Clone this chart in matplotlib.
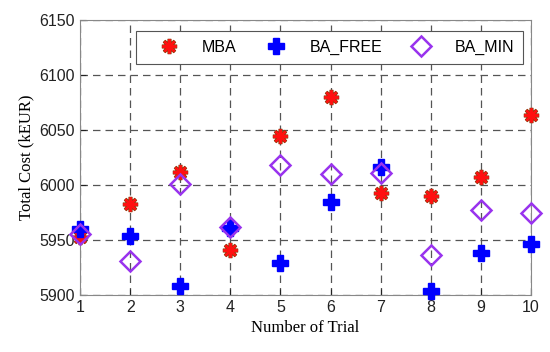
import numpy as np
from matplotlib import pyplot as plt
from matplotlib.lines import Line2D

# 试验次数与三种方法的总成本
trials = [1, 2, 3, 4, 5, 6, 7, 8, 9, 10]
mba = [5953, 5983, 6012, 5941, 6045, 6080, 5993, 5990, 6007, 6064]
ba_free = [5960, 5954, 5908, 5961, 5929, 5985, 6016, 5904, 5938, 5946]
ba_min = [5955, 5931, 6001, 5962, 6018, 6010, 6011, 5936, 5977, 5975]

plt.rcParams['font.family'] = ['Liberation Sans', 'DejaVu Sans']

fig = plt.figure(dpi=100, figsize=(5.5, 3.52))
ax = fig.add_axes([0.1455, 0.162, 0.82, 0.781])

star_dark = dict(ls='none', marker=(8, 2, 0), ms=11, mew=2.6, color='#9a3a10')
star_red = dict(ls='none', marker=(8, 2, 0), ms=10, mew=1.6, color='#ff1010')
ax.plot(trials, mba, zorder=3, clip_on=False, **star_dark)
ax.plot(trials, mba, zorder=4, clip_on=False, label='MBA', **star_red)
ax.plot(trials, ba_free, ls='none', marker='P', ms=11, color='#0000ff',
        mec='#0000ff', zorder=4, clip_on=False, label='BA_FREE')
ax.plot(trials, ba_min, ls='none', marker='D', ms=10, mfc='none',
        mec='#9933ee', mew=1.8, zorder=5, clip_on=False, label='BA_MIN')

ax.set_xlim(1, 10)
ax.set_ylim(5900, 6150)
ax.set_xticks(trials)
ax.set_yticks([5900, 5950, 6000, 6050, 6100, 6150])
ax.grid(True, ls=(0, (6, 4)), color='#555555', lw=0.9)
ax.tick_params(direction='in', length=4, labelsize=11.5, colors='#222222')
for s in ax.spines.values():
    s.set_color('#888888')

ax.set_xlabel('Number of Trial', fontsize=12, family='Liberation Serif')
ax.set_ylabel('Total Cost (kEUR)', fontsize=12, family='Liberation Serif')

h, l = ax.get_legend_handles_labels()
mba_h = (Line2D([], [], **star_dark), Line2D([], [], **star_red))
leg = ax.legend([mba_h, h[1], h[2]], l, ncol=3, loc='upper center',
                bbox_to_anchor=(0.553, 0.99), fontsize=11.5, fancybox=False,
                edgecolor='#555555', framealpha=1, handlelength=3.0,
                handletextpad=0.6, columnspacing=0.95, borderpad=0.55)
leg.get_frame().set_linewidth(0.8)

plt.savefig('out.png')
